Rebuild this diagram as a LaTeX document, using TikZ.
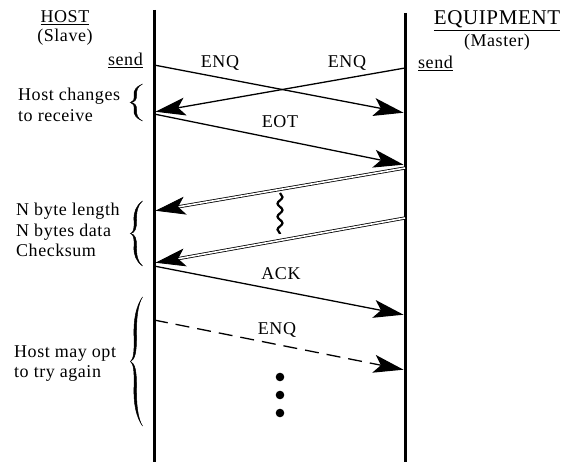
\documentclass[tikz,border=0pt]{standalone}
\usepackage{fontspec}
\setmainfont{Liberation Serif}[LetterSpace=3]
\usetikzlibrary{arrows.meta,decorations.pathmorphing}

% A tall curly brace opening to the right: #1 top y, #2 bottom y
\newcommand\notebrace[2]{%
  \pgfmathsetmacro\braceT{#1}%
  \pgfmathsetmacro\braceB{#2}%
  \pgfmathsetmacro\braceM{(#1+#2)/2}%
  \pgfmathsetmacro\braceH{(#2-#1)/2}%
  \filldraw[line width=0.5pt]
    (142.5,\braceT)
      .. controls (136,{\braceT+0.15*\braceH}) and (133.5,{\braceT+0.35*\braceH}) .. (134,{\braceT+0.6*\braceH})
      .. controls (134.5,{\braceM-0.15*\braceH}) and (133.5,{\braceM-0.03*\braceH}) .. (130.5,\braceM)
      .. controls (133.5,{\braceM+0.03*\braceH}) and (134.5,{\braceM+0.15*\braceH}) .. (134,{\braceB-0.6*\braceH})
      .. controls (133.5,{\braceB-0.35*\braceH}) and (136,{\braceB-0.15*\braceH}) .. (142.5,\braceB)
      .. controls (137.5,{\braceB-0.12*\braceH}) and (136.3,{\braceB-0.35*\braceH}) .. (136.5,{\braceB-0.6*\braceH})
      .. controls (136.7,{\braceM+0.15*\braceH}) and (135,{\braceM+0.03*\braceH}) .. (130.5,\braceM)
      .. controls (135,{\braceM-0.03*\braceH}) and (136.7,{\braceM-0.15*\braceH}) .. (136.5,{\braceT+0.6*\braceH})
      .. controls (136.3,{\braceT+0.35*\braceH}) and (137.5,{\braceT+0.12*\braceH}) .. (142.5,\braceT)
      -- cycle;%
}

\begin{document}
\begin{tikzpicture}[x=1pt,y=-1pt,
  lifeline/.style={line width=3pt},
  bighead/.style={-{Stealth[length=30pt,width=18pt,inset=7pt]}},
  msg/.style={line width=1.3pt,bighead,shorten >=1.5pt},
  bulk/.style={line width=0.8pt,double,double distance=1.6pt,bighead,shorten >=1.5pt},
  retry/.style={msg,dash pattern=on 14pt off 8pt},
  txt/.style={font=\fontsize{18}{20}\selectfont,inner sep=0pt},
  lbl/.style={txt,anchor=base},
  note/.style={txt,anchor=base west},
]
\useasboundingbox (0,0) rectangle (568,462);

% lifelines
\coordinate (hostTop) at (154,10);
\coordinate (hostBot) at (154,462);
\coordinate (eqTop) at (405,13);
\coordinate (eqBot) at (405,462);
\draw[lifeline] (hostTop) -- (hostBot);
\draw[lifeline] (eqTop) -- (eqBot);

% headings
\node[lbl] (host) at (65,23) {\underline{HOST}};
\node[lbl] (slave) at (65,42) {(Slave)};
\node[txt,anchor=base east] (hsend) at (143,66) {\underline{send}};
\node[txt,anchor=base,font=\fontsize{21}{24}\selectfont] (equip) at (497,25) {\underline{EQUIPMENT}};
\node[lbl] (master) at (497,47) {(Master)};
\node[txt,anchor=base west] (esend) at (418,69) {\underline{send}};

% message end points
\coordinate (h1) at (154,65);  \coordinate (e1) at (405,113);
\coordinate (e0) at (405,68);  \coordinate (h0) at (154,112);
\coordinate (h2) at (154,114); \coordinate (e2) at (405,165);
\coordinate (e3) at (405,168); \coordinate (h3) at (154,211);
\coordinate (e4) at (405,218); \coordinate (h4) at (154,263);
\coordinate (h5) at (154,266); \coordinate (e5) at (405,315);
\coordinate (h6) at (154,320); \coordinate (e6) at (405,370);

% messages
\draw[msg] (h1) -- (e1);
\draw[msg] (e0) -- (h0);
\draw[msg] (h2) -- (e2);
\draw[bulk] (e3) -- (h3);
\draw[bulk] (e4) -- (h4);
\draw[msg] (h5) -- (e5);
\draw[retry] (h6) -- (e6);

% message labels
\node[lbl] (enqH) at (220,68) {ENQ};
\node[lbl] (enqE) at (347,68) {ENQ};
\node[lbl] (eot) at (280,128) {EOT};
\node[lbl] (ack) at (281,280) {ACK};
\node[lbl] (enqR) at (277,335) {ENQ};

% gap in the data block
\coordinate (sqTop) at (280,193);
\coordinate (sqBot) at (280,234);
\draw[decorate,decoration={snake,amplitude=2.5pt,segment length=13pt},line width=2.2pt] (sqTop) -- (sqBot);

% continuation dots
\fill (280,377) circle (4.3pt);
\fill (280,395) circle (4.3pt);
\fill (280,413) circle (4.3pt);

% host side notes
\node[note] (n1a) at (18,101) {Host changes};
\node[note] (n1b) at (18,122) {to receive};
\notebrace{84}{121}

\node[note] (n2a) at (16,216) {N byte length};
\node[note] (n2b) at (16,237) {N bytes data};
\node[note] (n2c) at (16,257) {Checksum};
\notebrace{201}{266}

\node[note] (n3a) at (14,358) {Host may opt};
\node[note] (n3b) at (14,378) {to try again};
\notebrace{297}{426}
\end{tikzpicture}
\end{document}
